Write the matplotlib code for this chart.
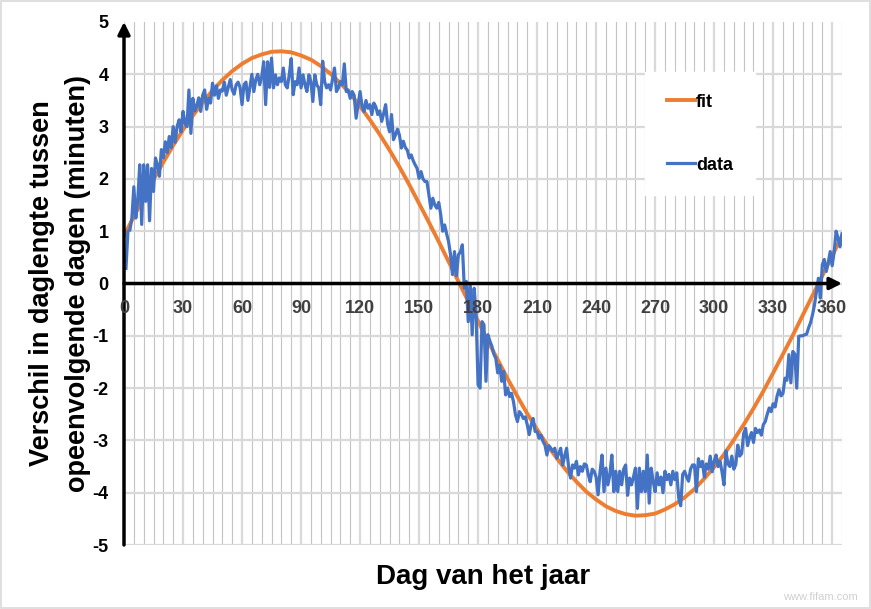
import matplotlib
matplotlib.use("Agg")
import matplotlib.pyplot as plt
from matplotlib.patches import Rectangle
import numpy as np

plt.rcParams['font.family'] = ['Liberation Sans', 'DejaVu Sans']

fit_dagen = list(range(0, 366, 5))
fit_waarden = [0.91, 1.28, 1.64, 1.99, 2.32, 2.64, 2.94, 3.21, 3.46, 3.69,
               3.89, 4.06, 4.20, 4.31, 4.38, 4.43, 4.44, 4.42, 4.36, 4.28,
               4.16, 4.01, 3.83, 3.63, 3.39, 3.13, 2.85, 2.55, 2.23, 1.89,
               1.53, 1.17, 0.80, 0.42, 0.04, -0.34, -0.72, -1.10, -1.46, -1.82,
               -2.16, -2.49, -2.79, -3.08, -3.34, -3.58, -3.79, -3.98, -4.13, -4.26,
               -4.35, -4.41, -4.44, -4.43, -4.40, -4.32, -4.22, -4.09, -3.93, -3.73,
               -3.51, -3.27, -2.99, -2.70, -2.39, -2.06, -1.71, -1.35, -0.99, -0.61,
               -0.23, 0.15, 0.53, 0.91]

# data, dag 1 t/m 365
data_waarden = [
    0.29, 1.00, 1.02, 1.25, 1.85, 1.25, 1.60, 2.27, 1.13, 2.27,
    1.57, 2.27, 1.20, 2.20, 1.76, 2.40, 2.27, 2.05, 2.56, 2.40,
    2.71, 2.50, 2.81, 2.60, 3.00, 2.70, 3.00, 3.13, 2.90, 3.29,
    3.06, 3.00, 3.70, 2.87, 3.54, 3.30, 3.40, 3.55, 3.29, 3.60,
    3.70, 3.33, 3.54, 3.45, 3.83, 3.60, 3.78, 3.54, 3.70, 3.68,
    3.85, 3.60, 3.75, 3.90, 3.70, 3.62, 3.80, 3.85, 3.75, 3.42,
    3.80, 3.85, 3.50, 3.75, 4.00, 3.67, 3.90, 4.00, 3.80, 3.95,
    4.24, 3.42, 4.24, 3.75, 4.31, 3.74, 3.99, 3.80, 3.93, 3.86,
    4.12, 3.80, 3.74, 3.99, 4.30, 3.61, 3.86, 3.80, 4.12, 3.74,
    3.99, 3.80, 3.67, 3.99, 3.86, 3.48, 3.99, 3.80, 3.74, 3.42,
    4.25, 3.86, 3.74, 3.80, 3.70, 3.90, 4.12, 3.67, 3.74, 3.86,
    3.80, 4.20, 3.67, 3.70, 3.54, 3.67, 3.60, 3.16, 3.42, 3.67,
    3.40, 3.29, 3.50, 3.35, 3.42, 3.23, 3.45, 3.38, 3.23, 3.30,
    3.10, 3.25, 3.42, 3.05, 2.90, 3.23, 2.75, 2.84, 2.95, 2.84,
    2.59, 2.72, 2.60, 2.55, 2.40, 2.46, 2.35, 2.27, 2.20, 2.01,
    2.14, 2.00, 1.95, 1.95, 1.70, 1.44, 1.63, 1.50, 1.44, 1.55,
    1.32, 1.00, 1.12, 0.95, 0.80, 0.55, 0.17, 0.61, 0.15, 0.55,
    0.60, 0.74, -0.09, 0.04, -0.73, 0.00, -0.98, -0.09, -0.60, -1.94,
    -2.00, -0.73, -0.79, -1.87, -0.98, -1.10, -1.20, -1.35, -1.43, -1.71,
    -1.56, -1.87, -1.68, -2.13, -2.00, -2.16, -2.10, -2.26, -2.51, -2.64,
    -2.45, -2.50, -2.58, -2.55, -2.70, -2.89, -2.70, -2.58, -2.83, -2.83,
    -2.96, -2.90, -3.02, -3.09, -3.28, -3.10, -3.15, -3.21, -3.15, -3.34,
    -3.25, -3.15, -3.47, -3.30, -3.15, -3.50, -3.72, -3.47, -3.53, -3.40,
    -3.66, -3.50, -3.59, -3.45, -3.47, -3.65, -3.79, -3.55, -3.59, -3.70,
    -4.04, -3.60, -3.28, -3.98, -3.53, -3.85, -3.65, -3.28, -3.98, -3.59,
    -3.98, -3.59, -3.85, -3.55, -3.47, -4.05, -3.72, -3.85, -3.70, -3.53,
    -4.30, -3.53, -3.98, -3.59, -3.98, -3.28, -4.20, -3.53, -3.78, -3.98,
    -3.62, -3.85, -3.70, -4.00, -3.59, -3.75, -3.65, -3.85, -3.59, -3.75,
    -3.62, -4.10, -4.25, -3.65, -3.59, -3.70, -3.78, -3.55, -3.47, -3.47,
    -3.98, -3.35, -3.50, -3.40, -3.70, -3.45, -3.55, -3.30, -3.60, -3.40,
    -3.28, -3.50, -3.40, -3.60, -3.85, -3.20, -3.45, -3.50, -3.30, -3.55,
    -3.46, -3.09, -3.30, -3.25, -2.87, -2.77, -3.10, -2.95, -2.85, -3.04,
    -2.77, -2.85, -2.80, -2.90, -2.70, -2.64, -2.50, -2.38, -2.45, -2.30,
    -2.36, -2.15, -2.03, -2.15, -2.10, -1.81, -1.85, -1.36, -1.90, -1.30,
    -1.35, -2.00, -1.01, -1.00, -1.00, -0.98, -0.97, -0.85, -0.75, -0.60,
    -0.41, -0.15, 0.10, -0.28, 0.36, 0.46, 0.23, 0.40, 0.61, 0.34,
    0.60, 1.00, 0.87, 0.70, 0.95]
data_dagen = list(range(1, len(data_waarden) + 1))

x_ticks = list(range(0, 361, 30))
y_ticks = list(range(-5, 6))

# figuur
fig = plt.figure(figsize=(8.71, 6.09), dpi=100)
ax = fig.add_axes([124 / 871, 1 - 545 / 609, 718 / 871, 523 / 609])

ax.plot(fit_dagen, fit_waarden, color='#ED7D31', lw=2.8, label='fit', zorder=3)
ax.plot(data_dagen, data_waarden, color='#4472C4', lw=2.3, label='data', zorder=4)

ax.set_xlim(0, 365)
ax.set_ylim(-5, 5)
for s in ax.spines.values():
    s.set_visible(False)

# rasterlijnen
ax.set_xticks(x_ticks)
ax.set_xticks(list(range(0, 366, 5)), minor=True)
ax.set_xticklabels([])
ax.set_yticks(y_ticks)
ax.set_yticklabels([str(v) for v in y_ticks], fontsize=13, fontweight='bold')
ax.tick_params(axis='both', which='both', length=0)
ax.tick_params(axis='y', pad=11)
ax.grid(True, which='major', axis='x', color='#d9d9d9', lw=1.6, zorder=0)
ax.grid(True, which='minor', axis='x', color='#c4c4c4', lw=0.8, zorder=0)
ax.grid(True, which='major', axis='y', color='#d9d9d9', lw=1.6, zorder=0)
ax.yaxis.get_gridlines()[-1].set_visible(False)
ax.set_axisbelow(True)

# assen met pijlen
ax.annotate('', xy=(365, 0), xytext=(0, 0), annotation_clip=False,
            arrowprops=dict(arrowstyle='-|>', lw=2.5, color='black',
                            mutation_scale=18, shrinkA=0, shrinkB=0), zorder=5)
ax.annotate('', xy=(0, 5.0), xytext=(0, -5), annotation_clip=False,
            arrowprops=dict(arrowstyle='-|>', lw=2.5, color='black',
                            mutation_scale=18, shrinkA=0, shrinkB=0), zorder=5)

# x-labels langs de nullijn
for t in x_ticks:
    ax.text(t, -0.48, str(t), ha='center', va='center', fontsize=13,
            fontweight='bold', color='#404040', zorder=6)

ax.set_xlabel('Dag van het jaar', fontsize=20, fontweight='bold', labelpad=10)
ax.set_ylabel('Verschil in daglengte tussen\nopeenvolgende dagen (minuten)',
              fontsize=19.5, fontweight='bold', labelpad=1, linespacing=1.5)

leg = ax.legend(loc='upper left', bbox_to_anchor=(0.7256, 0.9044), borderaxespad=0,
                frameon=True, fancybox=False, edgecolor='white', facecolor='white',
                framealpha=1, prop={'weight': 'bold', 'size': 13},
                handlelength=1.55, handletextpad=0.08, labelspacing=2.55, borderpad=1.2)
leg.set_zorder(7)

# rand om de figuur
fig.patches.append(Rectangle((0.001, 0.001), 0.998, 0.997, transform=fig.transFigure,
                             fill=False, edgecolor='#d9d9d9', lw=1.2))
fig.text(0.985, 0.012, 'www.fifam.com', ha='right', va='bottom', fontsize=8, color='#d0d0d0')

fig.savefig('out.png', dpi=100)
